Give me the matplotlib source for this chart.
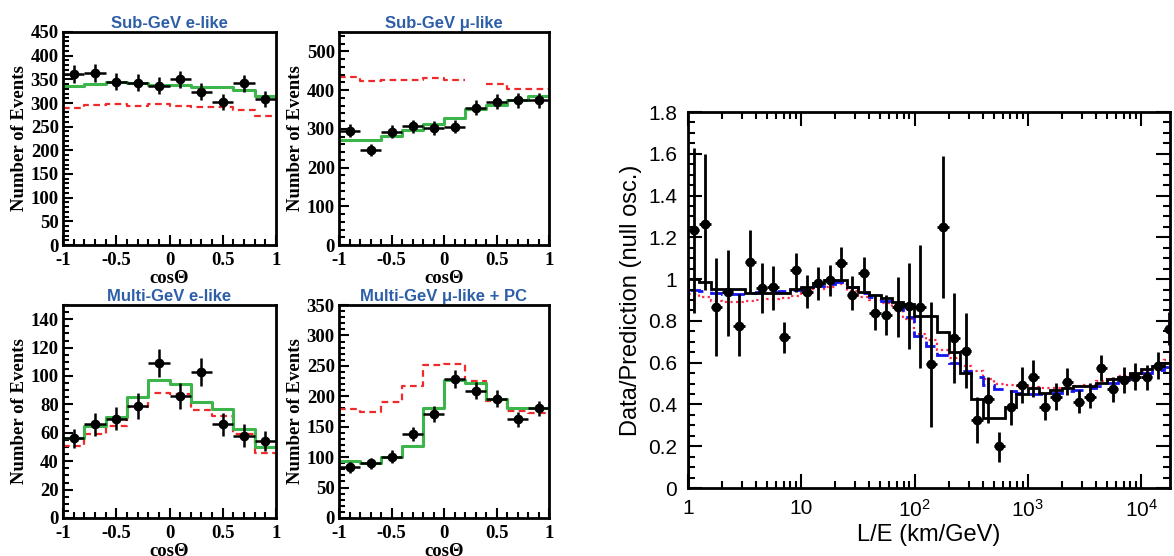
#Atmospheric neutrino zenith angle + L/E ratio plots
import matplotlib.pyplot as plt
import numpy as np
from matplotlib.ticker import MultipleLocator, FixedLocator, NullFormatter

plt.rcParams['mathtext.fontset'] = 'custom'
plt.rcParams['mathtext.rm'] = 'Liberation Sans'
plt.rcParams['mathtext.default'] = 'rm'

# ---- zenith angle panels (10 bins in cos theta) ----
cos_edges = np.linspace(-1, 1, 11)
cos_centers = [-0.9, -0.7, -0.5, -0.3, -0.1, 0.1, 0.3, 0.5, 0.7, 0.9]

subgev_e_data = [362, 363, 345, 343, 336, 350, 324, 303, 342, 308]
subgev_e_err = [19, 19, 18, 18, 18, 18, 18, 17, 18, 17]
subgev_e_osc = [335, 340, 344, 342, 338, 338, 333, 334, 328, 314]
subgev_e_null = [290, 295, 297, 294, 297, 293, 291, 291, 286, 273]

subgev_mu_data = [295, 246, 293, 306, 302, 305, 355, 370, 374, 374]
subgev_mu_err = [17, 16, 17, 17, 17, 17, 19, 19, 19, 19]
subgev_mu_osc = [271, 271, 282, 297, 312, 327, 350, 361, 374, 386]
subgev_mu_null = [433, 423, 426, 427, 430, 426, np.nan, 415, 404, 402]

multigev_e_data = [56, 66, 70, 79, 109, 86, 103, 66, 58, 54]
multigev_e_err = [7, 8, 8, 9, 10, 9, 10, 8, 8, 7]
multigev_e_osc = [56, 65, 71, 85, 97, 94.5, 82, 77, 63, 50]
multigev_e_null = [51, 59, 65, 78, 88, 87, 76, 71.5, 59, 46]

multigev_mu_data = [83, 90, 101, 138, 171, 228, 209, 196, 162, 180]
multigev_mu_err = [9, 9, 10, 12, 13, 15, 14, 14, 13, 13]
multigev_mu_osc = [93, 91, 101, 118, 180, 227, 222, 196, 180, 180]
multigev_mu_null = [179, 175, 190, 217, 251, 253, 225, 192, 176, 173]

panels = [
    ("Sub-GeV e-like", subgev_e_data, subgev_e_err, subgev_e_osc, subgev_e_null, 450, 50, 10),
    ("Sub-GeV \u03bc-like", subgev_mu_data, subgev_mu_err, subgev_mu_osc, subgev_mu_null, 550, 100, 20),
    ("Multi-GeV e-like", multigev_e_data, multigev_e_err, multigev_e_osc, multigev_e_null, 150, 20, 5),
    ("Multi-GeV \u03bc-like + PC", multigev_mu_data, multigev_mu_err, multigev_mu_osc, multigev_mu_null, 350, 50, 10),
]

# ---- L/E panel ----
le_centers = [1.12, 1.41, 1.78, 2.24, 2.82, 3.55, 4.47, 5.62, 7.08, 8.91,
              11.2, 14.1, 17.8, 22.4, 28.2, 35.5, 44.7, 56.2, 70.8, 89.1,
              112, 141, 178, 224, 282, 355, 447, 562, 708, 891,
              1120, 1410, 1780, 2240, 2820, 3550, 4470, 5620, 7080, 8910,
              11200, 14100, 17800]
ratio_data = [1.234, 1.263, 0.868, 0.94, 0.777, 1.083, 0.957, 0.963, 0.721, 1.043,
              0.936, 0.982, 0.995, 1.075, 0.923, 1.027, 0.839, 0.828, 0.868, 0.872,
              0.868, 0.592, 1.25, 0.719, 0.657, 0.325, 0.424, 0.202, 0.389, 0.493,
              0.53, 0.389, 0.437, 0.509, 0.41, 0.437, 0.573, 0.472, 0.517, 0.533,
              0.53, 0.584, 0.76]
ratio_top = [1.63, 1.60, 1.10, 1.14, 0.93, 1.234, 1.078, 1.064, 0.796, 1.126,
             1.02, 1.06, 1.067, 1.152, 1.014, 1.107, 0.928, 0.923, 1.011, 1.078,
             1.161, 0.891, 1.589, 0.932, 0.84, 0.437, 0.533, 0.27, 0.469, 0.577,
             0.612, 0.456, 0.501, 0.573, 0.469, 0.501, 0.636, 0.533, 0.577, 0.597,
             0.589, 0.652, 0.844]
ratio_bottom = [0.84, 0.95, 0.63, 0.73, 0.63, 0.933, 0.837, 0.852, 0.645, 0.94,
                0.86, 0.90, 0.92, 0.995, 0.852, 0.94, 0.756, 0.732, 0.724, 0.665,
                0.574, 0.293, 0.908, 0.501, 0.477, 0.214, 0.31, 0.126, 0.301, 0.408,
                0.437, 0.325, 0.373, 0.445, 0.357, 0.381, 0.513, 0.413, 0.453, 0.469,
                0.469, 0.52, 0.684]
ratio_osc = [1.0, 0.985, 0.955, 0.955, 0.955, 0.935, 0.935, 0.935, 0.935, 0.955,
             0.963, 0.982, 0.995, 0.995, 0.963, 0.94, 0.923, 0.908, 0.889, 0.88,
             0.823, 0.823, 0.748, 0.652, 0.55, 0.424, 0.333, 0.333, 0.389, 0.448,
             0.48, 0.453, 0.469, 0.477, 0.488, 0.488, 0.504, 0.52, 0.533, 0.552,
             0.568, 0.584, 0.597]
ratio_decay = [0.95, 0.945, 0.935, 0.93, 0.93, 0.935, 0.94, 0.94, 0.945, 0.95,
               0.955, 0.965, 0.975, 0.985, 0.96, 0.935, 0.915, 0.895, 0.87, 0.82,
               0.73, 0.68, 0.635, 0.6, 0.56, 0.53, 0.495, 0.472, 0.464, 0.455,
               0.45, 0.452, 0.455, 0.462, 0.47, 0.48, 0.49, 0.505, 0.52, 0.535,
               0.55, 0.565, 0.58]
ratio_decoh = [0.93, 0.915, 0.895, 0.89, 0.89, 0.895, 0.9, 0.905, 0.91, 0.92,
               0.935, 0.955, 0.963, 0.975, 0.945, 0.915, 0.9, 0.884, 0.86, 0.81,
               0.735, 0.71, 0.66, 0.62, 0.585, 0.56, 0.52, 0.5, 0.493, 0.487,
               0.482, 0.478, 0.477, 0.48, 0.488, 0.495, 0.51, 0.52, 0.535, 0.548,
               0.56, 0.585, 0.615]
ratio_ticks = [0, 0.2, 0.4, 0.6, 0.8, 1.0, 1.2, 1.4, 1.6, 1.8]
ratio_labels = ['0', '0.2', '0.4', '0.6', '0.8', '1', '1.2', '1.4', '1.6', '1.8']

fig = plt.figure(figsize=(11.74, 5.56), dpi=100)

serif = 'Liberation Serif'
title_blue = '#2d5ea8'
green = '#3cb54a'
red = '#ee2a2a'

boxes = [(63, 32, 213), (339, 32, 210), (63, 305, 213), (339, 305, 210)]
for (title, data, err, osc, null, ytop, major, minor), (px, py, pw) in zip(panels, boxes):
    ax = fig.add_axes([px / 1174, (556 - py - 213) / 556, pw / 1174, 213 / 556])
    xs = np.append(cos_edges[:-1], cos_edges[-1])
    ax.step(xs, np.append(null, null[-1]), where='post', color=red, lw=1.6,
            linestyle=(0, (3, 2)))
    ax.step(xs, np.append(osc, osc[-1]), where='post', color=green, lw=2.2)
    ax.errorbar(cos_centers, data, yerr=err, xerr=0.1, fmt='o', color='black',
                ms=6, elinewidth=1.8, capsize=0)
    ax.set_xlim(-1, 1)
    ax.set_ylim(0, ytop)
    ax.xaxis.set_major_locator(FixedLocator([-1, -0.5, 0, 0.5, 1]))
    ax.set_xticklabels(['-1', '-0.5', '0', '0.5', '1'])
    ax.xaxis.set_minor_locator(MultipleLocator(0.1))
    ax.yaxis.set_major_locator(MultipleLocator(major))
    ax.yaxis.set_minor_locator(MultipleLocator(minor))
    ax.tick_params(which='both', direction='in', width=1.5)
    ax.tick_params(which='major', length=7, labelsize=13.5)
    ax.tick_params(axis='x', which='major', pad=5)
    ax.tick_params(axis='y', which='major', pad=3)
    ax.tick_params(which='minor', length=4)
    for lab in ax.get_xticklabels() + ax.get_yticklabels():
        lab.set_fontfamily(serif)
        lab.set_fontweight('bold')
    for s in ax.spines.values():
        s.set_linewidth(2)
    ax.set_ylabel("Number of Events", fontsize=13.5, fontfamily=serif,
                  fontweight='bold', labelpad=2)
    ax.set_xlabel("cos\u0398", fontsize=13.5, fontfamily=serif, fontweight='bold',
                  labelpad=1)
    ax.set_title(title, fontsize=12, color=title_blue, fontfamily='Liberation Sans',
                 fontweight='bold', pad=3)

# right panel
ax = fig.add_axes([688 / 1174, (556 - 488) / 556, 482 / 1174, 376 / 556])
c = np.array(le_centers)
inner = np.sqrt(c[:-1] * c[1:])
edges = np.concatenate([[c[0] ** 2 / inner[0]], inner, [c[-1] ** 2 / inner[-1]]])
ax.stairs(ratio_decoh, edges, color='#ff2a4a', lw=1.6, linestyle=(0, (1, 1.5)))
ax.stairs(ratio_decay, edges, color='#1515ee', lw=2, linestyle=(0, (5, 3)))
ax.stairs(ratio_osc, edges, color='black', lw=2)
yerr = [np.array(ratio_data) - np.array(ratio_bottom),
        np.array(ratio_top) - np.array(ratio_data)]
xerr = [c - edges[:-1], edges[1:] - c]
ax.errorbar(c, ratio_data, yerr=yerr, xerr=xerr, fmt='o', color='black', ms=6,
            elinewidth=2, capsize=0)
ax.set_xscale('log')
ax.set_xlim(1, 1.8e4)
ax.set_ylim(0, 1.8)
ax.xaxis.set_major_locator(FixedLocator([1, 10, 100, 1000, 10000]))
ax.set_xticklabels(['1', '10', '$10^{2}$', '$10^{3}$', '$10^{4}$'])
ax.xaxis.set_minor_formatter(NullFormatter())
ax.yaxis.set_major_locator(FixedLocator(ratio_ticks))
ax.set_yticklabels(ratio_labels)
ax.yaxis.set_minor_locator(MultipleLocator(0.05))
ax.tick_params(which='both', direction='in', top=True, right=True, width=1.5)
ax.tick_params(which='major', length=10, labelsize=15, pad=8)
ax.tick_params(which='minor', length=5)
for lab in ax.get_xticklabels() + ax.get_yticklabels():
    lab.set_fontfamily('Liberation Sans')
for s in ax.spines.values():
    s.set_linewidth(2)
ax.set_ylabel("Data/Prediction (null osc.)", fontsize=17, fontfamily='Liberation Sans')
ax.set_xlabel("L/E (km/GeV)", fontsize=17, fontfamily='Liberation Sans', labelpad=2)

plt.savefig('out.png', dpi=100)
